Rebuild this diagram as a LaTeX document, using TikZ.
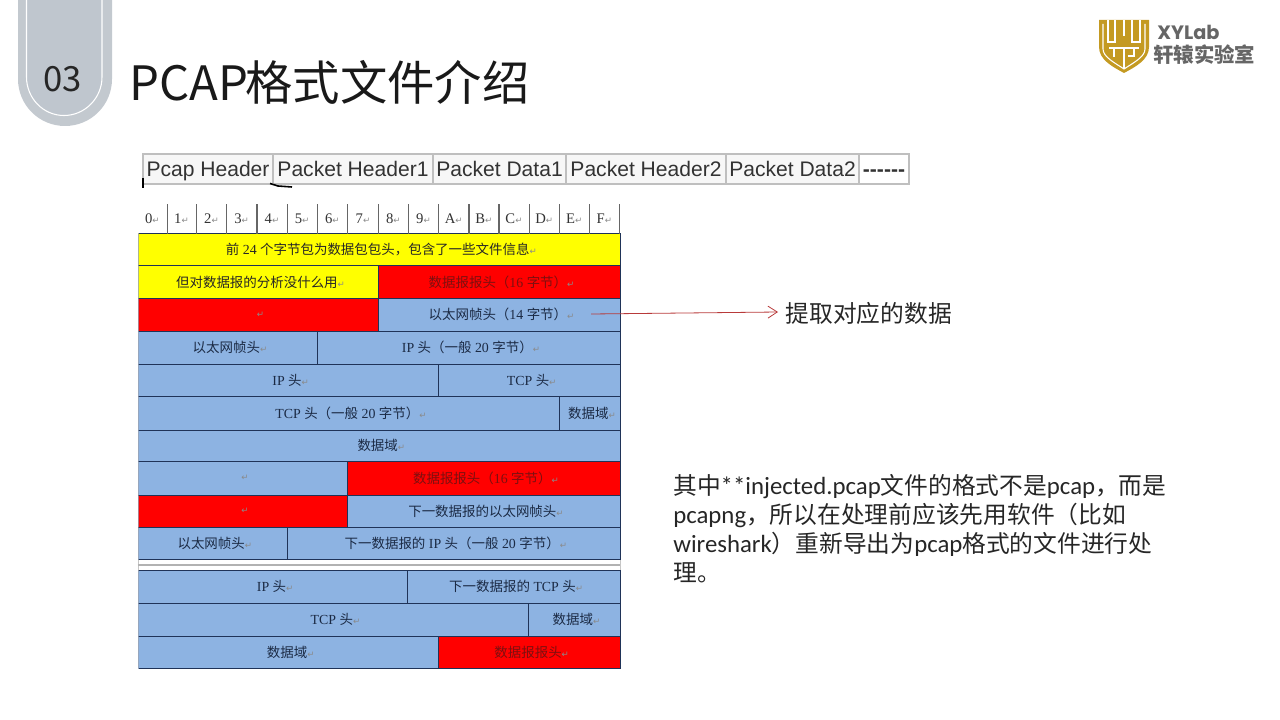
\documentclass[tikz,border=0pt]{standalone}
\usepackage{fontspec}
\usetikzlibrary{arrows.meta}
\setmainfont{Noto Sans CJK SC}
\newfontfamily\arialfont{Liberation Sans}
\newfontfamily\timesfont{Liberation Serif}
\newfontfamily\markfont{DejaVu Sans}
\newfontfamily\logofont{Poppins}
\newfontfamily\notefont{Carlito}
\newcommand{\lat}[1]{{\timesfont\fontsize{10.4}{12}\selectfont #1}}
\newcommand{\nlat}[1]{{\notefont\fontsize{18.6}{21.75}\selectfont #1}}
\newcommand{\retmark}{{\markfont\fontsize{6.5}{7}\selectfont\color{retgray}↵}}
\definecolor{tabgray}{HTML}{C3C9CF}
\definecolor{tabinner}{HTML}{BFC6CE}
\definecolor{retgray}{HTML}{8A8A8A}
\definecolor{cellyellow}{HTML}{FFFF00}
\definecolor{cellred}{HTML}{FF0000}
\definecolor{cellblue}{HTML}{8DB3E2}
\definecolor{cellline}{HTML}{1F3358}
\definecolor{celltext}{HTML}{1B2A44}
\definecolor{redtext}{HTML}{7C1010}
\definecolor{logogold}{HTML}{C49A22}
\definecolor{logogray}{HTML}{666666}
\definecolor{arrowred}{HTML}{B83A3A}
\tikzset{
  cellbox/.style={draw=cellline,line width=0.7pt,inner sep=0pt,font=\fontsize{10.1}{12}\selectfont,execute at begin node=\hspace{3.5pt}},
  yellowcell/.style={cellbox,fill=cellyellow,text=black!85},
  redcell/.style={cellbox,fill=cellred,text=redtext},
  bluecell/.style={cellbox,fill=cellblue,text=celltext},
  wh/.style 2 args={minimum width=#1*0.75pt,minimum height=#2*0.75pt},
  headcell/.style={inner sep=0pt,minimum height=22pt,minimum width=22.5pt,font=\fontsize{11}{12}\selectfont\timesfont,text=black!80},
  stripcell/.style={draw=gray!50,line width=1.1pt,fill=black!3,inner sep=0pt,minimum height=22.5pt,text height=13.5pt,text depth=2pt,font=\fontsize{15.8}{18}\selectfont\arialfont,text=black!80},
  bodytext/.style={inner sep=0pt,text=black!85,font=\fontsize{17.8}{21.75}\selectfont},
}
\begin{document}
\begin{tikzpicture}[x=0.75pt,y=-0.75pt,>={Straight Barb[length=7pt,width=9pt]}]
    \useasboundingbox (0,0) rectangle (1280,720);

    % chapter tab
    \fill[tabgray] (18,0) -- (18,79) .. controls (18,105) and (39,126) .. (65,126) .. controls (91,126) and (112,105) .. (112,79) -- (112,0) -- cycle;
    \filldraw[fill=tabinner,draw=white,line width=0.8pt] (26.5,0) -- (26.5,77) .. controls (26.5,98) and (43,115.5) .. (64,115.5) .. controls (85,115.5) and (102,98) .. (102,77) -- (102,0);
    \node[inner sep=0pt,text=black!85,font=\fontsize{26}{30}\selectfont] (tabnum) at (62.5,79) {03};
    \node[inner sep=0pt,anchor=west,text=black!90,font=\fontsize{35.5}{40}\selectfont] (title) at (129.5,82) {PCAP\hspace{-2.5pt}格式文件介绍};

    % logo
    \fill[logogold] (1099,20) -- (1149,20) -- (1149,47) .. controls (1149,60) and (1135,67) .. (1124,73) .. controls (1113,67) and (1099,60) .. (1099,47) -- cycle;
    \draw[white,line width=0.8pt] (1103,24) -- (1103,49) .. controls (1103,57) and (1115,63) .. (1124,69) .. controls (1133,63) and (1145,57) .. (1145,49) -- (1145,24);
    \draw[white,line width=0.8pt] (1108,20) -- (1108,42) -- (1115,42) -- (1115,20) (1132,20) -- (1132,42) -- (1140,42) -- (1140,20) (1124,20) -- (1124,36) (1109,48) -- (1139,48) (1124,48) -- (1124,69) (1114,48) -- (1114,57) (1134,48) -- (1134,56) -- (1128,56);
    \node[inner sep=0pt,anchor=west,text=logogray,font=\fontsize{14.5}{16}\selectfont\logofont\bfseries] (logoname) at (1157,32) {XYLab};
    \node[inner sep=0pt,anchor=west,text=logogray,font=\fontsize{15.3}{18}\selectfont\bfseries] (logosub) at (1153,54.5) {轩辕实验室};

    % file layout strip
    \node[stripcell,wh={130}{30}] (pcaphdr) at (208,169) {Pcap Header};
    \node[stripcell,wh={160}{30}] (pkthdra) at (353,169) {Packet Header1};
    \node[stripcell,wh={133}{30}] (pktdata) at (499.5,169) {Packet Data1};
    \node[stripcell,wh={160}{30}] (pkthdrb) at (646,169) {Packet Header2};
    \node[stripcell,wh={133}{30}] (pktdatb) at (792.5,169) {Packet Data2};
    \node[stripcell,wh={50}{30},fill=white] (pktmore) at (884,169) {\bfseries ------};
    \draw[black,line width=1pt] (143,178) -- (143,188);
    \draw[black,line width=1.2pt] (270,183.5) -- (278,186) -- (292,187);

    % byte numbers
    \node[headcell] (b0) at (152.3,219) {0\retmark};
    \node[headcell] (b1) at (181.5,219) {1\retmark};
    \node[headcell] (b2) at (211.5,219) {2\retmark};
    \node[headcell] (b3) at (241.7,219) {3\retmark};
    \node[headcell] (b4) at (272,219) {4\retmark};
    \node[headcell] (b5) at (302.2,219) {5\retmark};
    \node[headcell] (b6) at (332.3,219) {6\retmark};
    \node[headcell] (b7) at (363,219) {7\retmark};
    \node[headcell] (b8) at (393.3,219) {8\retmark};
    \node[headcell] (b9) at (423.5,219) {9\retmark};
    \node[headcell] (ba) at (453.7,219) {A\retmark};
    \node[headcell] (bb) at (483.8,219) {B\retmark};
    \node[headcell] (bc) at (514,219) {C\retmark};
    \node[headcell] (bd) at (544.2,219) {D\retmark};
    \node[headcell] (be) at (574.2,219) {E\retmark};
    \node[headcell] (bf) at (604.3,219) {F\retmark};

    % rows
    \node[draw=gray!45,line width=0.4pt,inner sep=0pt,wh={482}{11}] (gap) at (379,565) {};
    \draw[gray!60,line width=0.8pt] (gap.west) -- (gap.east);
    \begin{scope}
    \clip (138.5,230) rectangle (625,672);
    \node[yellowcell,wh={482}{32}] (info) at (379,249.5) {前\lat{ 24 }个字节包为数据包包头，包含了一些文件信息\retmark};
    \node[yellowcell,wh={240.3}{33}] (useless) at (258.2,282) {但对数据报的分析没什么用\retmark};
    \node[redcell,wh={241.7}{33}] (pkta) at (499.2,282) {数据报报头（\lat{16 }字节）\retmark};
    \node[redcell,wh={240.3}{32.5}] (pktb) at (258.2,314.75) {\retmark};
    \node[bluecell,wh={241.7}{32.5}] (etha) at (499.2,314.75) {以太网帧头（\lat{14 }字节）\retmark};
    \node[bluecell,wh={179.3}{33}] (ethb) at (227.65,347.5) {以太网帧头\retmark};
    \node[bluecell,wh={302.7}{33}] (ipa) at (468.65,347.5) {\lat{IP }头（一般\lat{ 20 }字节）\retmark};
    \node[bluecell,wh={300.7}{32.5}] (ipb) at (288.35,380.25) {\lat{IP }头\retmark};
    \node[bluecell,wh={181.3}{32.5}] (tcpa) at (529.35,380.25) {\lat{TCP }头\retmark};
    \node[bluecell,wh={421.3}{33.5}] (tcpb) at (348.65,413.25) {\lat{TCP }头（一般\lat{ 20 }字节）\retmark};
    \node[bluecell,wh={60.7}{33.5}] (dataa) at (589.65,413.25) {数据域\retmark};
    \node[bluecell,wh={482}{31.5}] (datab) at (379,445.75) {数据域\retmark};
    \node[bluecell,wh={209.3}{33.5}] (datac) at (242.65,478.25) {\retmark};
    \node[redcell,wh={272.7}{33.5}] (nexta) at (483.65,478.25) {数据报报头（\lat{16 }字节）\retmark};
    \node[redcell,wh={209.3}{32.5}] (nextb) at (242.65,511.25) {\retmark};
    \node[bluecell,wh={272.7}{32.5}] (nethb) at (483.65,511.25) {下一数据报的以太网帧头\retmark};
    \node[bluecell,wh={149}{32}] (nethc) at (212.5,543.5) {以太网帧头\retmark};
    \node[bluecell,wh={333}{32}] (nipa) at (453.5,543.5) {下一数据报的\lat{ IP }头（一般\lat{ 20 }字节）\retmark};
    \node[bluecell,wh={269.7}{32.5}] (nipb) at (272.85,586.75) {\lat{IP }头\retmark};
    \node[bluecell,wh={212.3}{32.5}] (ntcpa) at (513.85,586.75) {下一数据报的\lat{ TCP }头\retmark};
    \node[bluecell,wh={390.3}{33}] (ntcpb) at (333.15,619.5) {\lat{TCP }头\retmark};
    \node[bluecell,wh={91.7}{33}] (ndataa) at (574.15,619.5) {数据域\retmark};
    \node[bluecell,wh={300.7}{32.5}] (ndatab) at (288.35,652.25) {数据域\retmark};
    \node[redcell,wh={181.3}{32.5}] (lastpkt) at (529.35,652.25) {数据报报头\retmark};
    \end{scope}

    \draw[black!60,line width=0.9pt] (b0.north east) -- (b0.south east) (b1.north east) -- (b1.south east) (b2.north east) -- (b2.south east) (b3.north east) -- (b3.south east) (b4.north east) -- (b4.south east) (b5.north east) -- (b5.south east) (b6.north east) -- (b6.south east) (b7.north east) -- (b7.south east) (b8.north east) -- (b8.south east) (b9.north east) -- (b9.south east) (ba.north east) -- (ba.south east) (bb.north east) -- (bb.south east) (bc.north east) -- (bc.south east) (bd.north east) -- (bd.south east) (be.north east) -- (be.south east) (bf.north east) -- (bf.south east);

    % notes
    \node[bodytext,anchor=west] (extract) at (785.5,313) {提取对应的数据};
    \coordinate (arrowstart) at (591,314);
    \coordinate (arrowend) at (778,312);
    \draw[->,arrowred,line width=0.6pt] (arrowstart) -- (arrowend);
    \node[bodytext,anchor=west,align=left] (note) at (673,528.5) {其中\nlat{**injected.pcap}文件的格式不是\nlat{pcap}，而是\\\nlat{pcapng}，所以在处理前应该先用软件（比如\\\nlat{wireshark}）重新导出为\nlat{pcap}格式的文件进行处\\理。};
\end{tikzpicture}
\end{document}
